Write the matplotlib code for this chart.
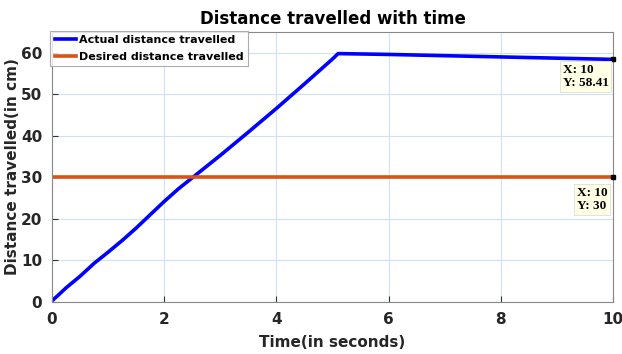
import matplotlib
matplotlib.use("Agg")
import matplotlib.pyplot as plt

t_actual = [0, 0.1, 0.25, 0.5, 0.75, 1.0, 1.25, 1.5, 1.75, 2.0, 2.25, 2.5, 2.75, 3.0, 3.5, 4.0, 4.5, 5.0, 5.1, 6, 7, 8, 9, 10]
d_actual = [0.3, 1.5, 3.4, 6.2, 9.3, 12.0, 14.8, 17.8, 21.0, 24.2, 27.2, 29.9, 32.6, 35.3, 40.9, 46.6, 52.5, 58.5, 59.8, 59.6, 59.3, 59.0, 58.7, 58.41]
t_desired = [0, 10]
d_desired = [30, 30]

title = "Distance travelled with time"
xlabel = "Time(in seconds)"
ylabel = "Distance travelled(in cm)"
legend_labels = ["Actual distance travelled", "Desired distance travelled"]

fig = plt.figure(figsize=(6.22, 3.54), dpi=100)
ax = fig.add_axes([52/622, 1-302/354, (613-52)/622, (302-32)/354])

ax.plot(t_actual, d_actual, color="#0000ff", lw=2.6, label=legend_labels[0])
ax.plot(t_desired, d_desired, color="#d95319", lw=2.6, label=legend_labels[1])

ax.set_xlim(0, 10)
ax.set_ylim(0, 65)
ax.set_xticks([0, 2, 4, 6, 8, 10])
ax.set_yticks([0, 10, 20, 30, 40, 50, 60])
ax.grid(True, color="#cfe2f3", lw=0.8)
ax.set_axisbelow(True)
ax.tick_params(direction="in", length=4, color="#333333", labelsize=11, labelcolor="#262626", pad=7)
for lab in ax.get_xticklabels() + ax.get_yticklabels():
    lab.set_fontweight("bold")
for s in ax.spines.values():
    s.set_color("#888888")
    s.set_linewidth(0.8)

ax.set_title(title, fontsize=12, fontweight="heavy", pad=6)
ax.set_xlabel(xlabel, fontsize=11, fontweight="bold", color="#262626", labelpad=6)
ax.set_ylabel(ylabel, fontsize=11, fontweight="bold", color="#262626", labelpad=1)

leg = ax.legend(loc="upper left", bbox_to_anchor=(-0.003, 1.004), prop={"weight": "bold", "size": 8},
                frameon=True, fancybox=False, borderpad=0.4, labelspacing=0.6, handlelength=1.9,
                handletextpad=0.25, borderaxespad=0)
leg.get_frame().set_edgecolor("#999999")
leg.get_frame().set_linewidth(0.8)

# data tips
for (xv, yv, txt, off) in [(t_actual[-1], d_actual[-1], "X: 10\nY: 58.41", (-3, -3)),
                            (t_desired[-1], d_desired[-1], "X: 10\nY: 30", (-4, -7))]:
    ax.plot([xv], [yv], marker="s", color="black", ms=3.5, clip_on=False, zorder=5)
    ax.annotate(txt, xy=(xv, yv), xytext=off, textcoords="offset points", ha="right", va="top",
                multialignment="left",
                fontsize=9.5, fontweight="bold", family="Liberation Serif", linespacing=1.15,
                bbox=dict(boxstyle="square,pad=0.2", fc="#ffffe6", ec="#dddddd", lw=0.6), zorder=6)

fig.savefig("out.png", dpi=100)
